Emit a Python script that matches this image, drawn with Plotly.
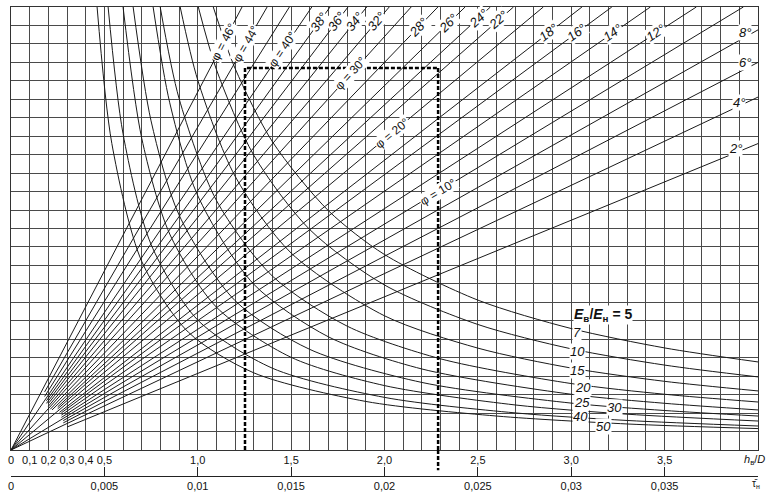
import math
import plotly.graph_objects as go

# ---------------- data ----------------
# phi lines (straight, through the origin): slope in grid units (y per unit h/D)
phi_deg = [2, 4, 6, 8, 10, 12, 14, 16, 18, 20, 22, 24, 26, 28, 30, 32, 34, 36, 38, 40, 42, 44, 46]
phi_slope = [4.15, 4.78, 5.25, 5.69, 6.12, 6.54, 7.01, 7.46, 7.85, 8.42, 8.92, 9.35, 9.87,
             10.5, 11.2, 11.85, 12.6, 13.3, 14.05, 14.9, 16.1, 17.5, 19.4]
phi_start = [0.30, 0.0, 0.28, 0.28, 0.0, 0.27, 0.27, 0.27, 0.26, 0.0, 0.25, 0.25, 0.22,
             0.21, 0.0, 0.20, 0.20, 0.19, 0.19, 0.0, 0.18, 0.18, 0.0]

# E_B/E_H curves: points (h/D, grid units)
e_ratio = [5, 7, 10, 15, 20, 25, 30, 40, 50]
e_x = {
    5:  [1.083, 1.2, 1.4, 1.7, 2.0, 2.5, 3.0, 3.5, 4.0],
    7:  [1.003, 1.1, 1.3, 1.6, 2.0, 2.5, 3.0, 3.5, 4.0],
    10: [0.906, 1.0, 1.2, 1.5, 2.0, 2.5, 3.0, 3.5, 4.0],
    15: [0.799, 0.9, 1.1, 1.4, 1.8, 2.3, 3.0, 3.5, 4.0],
    20: [0.761, 0.85, 1.0, 1.3, 1.7, 2.2, 3.0, 3.5, 4.0],
    25: [0.654, 0.75, 0.9, 1.2, 1.6, 2.2, 3.0, 3.5, 4.0],
    30: [0.60, 0.7, 0.85, 1.1, 1.5, 2.0, 2.7, 3.3, 4.0],
    40: [0.52, 0.6, 0.75, 1.0, 1.4, 2.0, 2.7, 3.3, 4.0],
    50: [0.461, 0.54, 0.7, 0.95, 1.3, 1.9, 2.6, 3.3, 4.0],
}
e_y = {
    5:  [24.0, 20.67, 16.70, 12.96, 10.59, 8.12, 6.58, 5.53, 4.77],
    7:  [24.0, 20.61, 15.97, 11.94, 8.94, 6.80, 5.48, 4.60, 3.96],
    10: [24.0, 20.04, 14.83, 10.67, 7.27, 5.52, 4.44, 3.72, 3.20],
    15: [24.0, 19.04, 13.52, 9.42, 6.71, 4.94, 3.60, 3.02, 2.60],
    20: [24.0, 18.81, 13.78, 8.98, 6.13, 4.39, 3.02, 2.53, 2.17],
    25: [24.0, 17.83, 12.73, 8.09, 5.45, 3.66, 2.54, 2.14, 1.84],
    30: [24.0, 16.89, 11.70, 7.74, 5.02, 3.49, 2.44, 1.94, 1.57],
    40: [24.0, 17.13, 11.14, 7.04, 4.43, 2.85, 2.01, 1.60, 1.30],
    50: [24.0, 16.60, 10.22, 6.38, 4.18, 2.63, 1.84, 1.41, 1.16],
}

# worked example (dashed): h/D -> level -> tau_H
ex_h = 1.253
ex_level = 20.7
ex_tau = 0.02287

# axis ticks
h_ticks = [round(0.1 * i, 1) for i in range(41)]
h_labels = {0.0: "0", 0.1: "0,1", 0.2: "0,2", 0.3: "0,3", 0.4: "0,4", 0.5: "0,5",
            1.0: "1,0", 1.5: "1,5", 2.0: "2,0", 2.5: "2,5", 3.0: "3,0", 3.5: "3,5"}
tau_ticks = [0, 0.005, 0.01, 0.015, 0.02, 0.025, 0.03, 0.035]
tau_labels = ["0", "0,005", "0,01", "0,015", "0,02", "0,025", "0,03", "0,035"]

X_MAX = 4.0
Y_MAX = 24

# label placement (not data)
phi_label_pos = {  # phi: (text, grid y of label centre)
    46: ("φ = 46°", 22.1), 44: ("φ = 44°", 22.0), 40: ("φ = 40°", 21.7),
    38: ("<i>38°</i>", 23.2), 36: ("<i>36°</i>", 23.2), 34: ("<i>34°</i>", 23.2),
    32: ("<i>32°</i>", 23.2), 30: ("φ = 30°", 20.4), 28: ("<i>28°</i>", 22.9),
    26: ("<i>26°</i>", 23.1), 24: ("<i>24°</i>", 23.4), 22: ("<i>22°</i>", 23.3),
    20: ("φ = 20°", 17.2), 18: ("<i>18°</i>", 22.6), 16: ("<i>16°</i>", 22.6),
    14: ("<i>14°</i>", 22.6), 12: ("<i>12°</i>", 22.6), 10: ("φ = 10°", 14.0),
}
phi_edge_labels = {8: (3.93, 22.6), 6: (3.93, 21.0), 4: (3.90, 18.85), 2: (3.88, 16.36)}
e_label_pos = {5: (3.17, 7.31), 7: (3.031, 6.34), 10: (3.036, 5.31), 15: (3.036, 4.33),
               20: (3.063, 3.36), 25: (3.058, 2.60), 30: (3.234, 2.28), 40: (3.047, 1.79),
               50: (3.17, 1.30)}

# ---------------- figure ----------------
W, H = 768, 492
ML, MR, MT, MB = 11, 10, 7, 16
plot_w = W - ML - MR
plot_h_total = H - MT - MB
main_bottom_px = 450
dom0 = (H - MB - main_bottom_px) / plot_h_total
plot_h = plot_h_total * (1 - dom0)
px_per_x = plot_w / X_MAX
px_per_y = plot_h / Y_MAX

FONT = "Liberation Sans, Arial, sans-serif"
LINE = "#1a1a1a"

fig = go.Figure()

# phi lines
for d, m, x0 in zip(phi_deg, phi_slope, phi_start):
    x1 = min(X_MAX, Y_MAX / m)
    fig.add_trace(go.Scatter(x=[x0, x1], y=[m * x0, m * x1], mode="lines",
                             line=dict(color=LINE, width=1), hoverinfo="skip",
                             showlegend=False))

# E curves
for r in e_ratio:
    fig.add_trace(go.Scatter(x=e_x[r], y=e_y[r], mode="lines",
                             line=dict(color=LINE, width=1, shape="spline", smoothing=0.8),
                             hoverinfo="skip", showlegend=False))

# dashed example
DASH = dict(color="black", width=2.5, dash="4px,2px")
fig.add_trace(go.Scatter(x=[ex_h, ex_h, ex_tau * 100], y=[0, ex_level, ex_level], mode="lines",
                         line=DASH, hoverinfo="skip", showlegend=False))
fig.add_shape(type="line", xref="x", yref="y", x0=ex_tau * 100, x1=ex_tau * 100,
              y0=ex_level, y1=0, line=DASH)
fig.add_shape(type="line", xref="x", yref="paper", x0=ex_tau * 100, x1=ex_tau * 100,
              y0=dom0, y1=0.012, line=DASH)

# dummy trace to activate the tau axis
fig.add_trace(go.Scatter(x=[0, X_MAX / 100], y=[-5, -5], xaxis="x2", mode="lines",
                         line=dict(width=0), hoverinfo="skip", showlegend=False))

ann = []
for d, m in zip(phi_deg, phi_slope):
    if d in phi_label_pos:
        txt, yl = phi_label_pos[d]
        ang = math.degrees(math.atan(m * px_per_y / px_per_x))
        ann.append(dict(x=yl / m, y=yl, text=txt, showarrow=False, textangle=-ang,
                        font=dict(family=FONT, size=12 if "φ" in txt else 13, color="#111"),
                        bgcolor="white", borderpad=0))
    if d in phi_edge_labels:
        xl, yl = phi_edge_labels[d]
        ann.append(dict(x=xl, y=yl, text=f"<i>{d}°</i>", showarrow=False,
                        font=dict(family=FONT, size=13, color="#111"),
                        bgcolor="white", borderpad=0))
for r in e_ratio:
    xl, yl = e_label_pos[r]
    if r == 5:
        txt = "<b><i>E</i><sub>в</sub>/<i>E</i><sub>н</sub> = 5</b>"
        size = 14
    else:
        txt = f"<i>{r}</i>"
        size = 13
    ann.append(dict(x=xl, y=yl, text=txt, showarrow=False,
                    font=dict(family=FONT, size=size, color="#111"),
                    bgcolor="white", borderpad=0))

ann.append(dict(x=X_MAX, y=dom0, xref="x", yref="paper", xanchor="right", yanchor="top",
                xshift=9, yshift=-1, text="<i>h</i><sub>в</sub>/<i>D</i>", showarrow=False,
                font=dict(family=FONT, size=11, color="#111")))
ann.append(dict(x=X_MAX, y=0, xref="x", yref="paper", xanchor="right", yanchor="top",
                xshift=4, yshift=0, text="τ̄<sub>н</sub>", showarrow=False,
                font=dict(family=FONT, size=10, color="#111")))

fig.update_layout(
    width=W, height=H,
    margin=dict(l=ML, r=MR, t=MT, b=MB, autoexpand=False),
    paper_bgcolor="white", plot_bgcolor="white",
    annotations=ann,
    xaxis=dict(range=[0, X_MAX], tickvals=h_ticks,
               ticktext=[h_labels.get(v, " ") for v in h_ticks],
               showgrid=True, gridcolor="#4a4a4a", gridwidth=1, zeroline=False,
               showline=True, mirror=True, linecolor="#333", linewidth=1,
               ticks="", tickfont=dict(family=FONT, size=11, color="#111"),
               anchor="y", automargin=False),
    xaxis2=dict(range=[0, X_MAX / 100], overlaying="x", anchor="free", position=0,
                side="bottom", tickvals=tau_ticks, ticktext=tau_labels,
                ticks="inside", ticklen=9, tickcolor="#222", tickwidth=1,
                showline=True, linecolor="#222", linewidth=1, showgrid=False,
                zeroline=False, automargin=False,
                tickfont=dict(family=FONT, size=11, color="#111")),
    yaxis=dict(range=[0, Y_MAX], dtick=1, domain=[dom0, 1], showticklabels=False,
               showgrid=True, gridcolor="#4a4a4a", gridwidth=1, zeroline=False,
               showline=True, mirror=True, linecolor="#333", linewidth=1, ticks="",
               automargin=False),
)

fig.write_html("out.html", config={"displayModeBar": False, "staticPlot": True},
               post_script="document.body.style.margin='0';document.body.style.overflow='hidden';")
